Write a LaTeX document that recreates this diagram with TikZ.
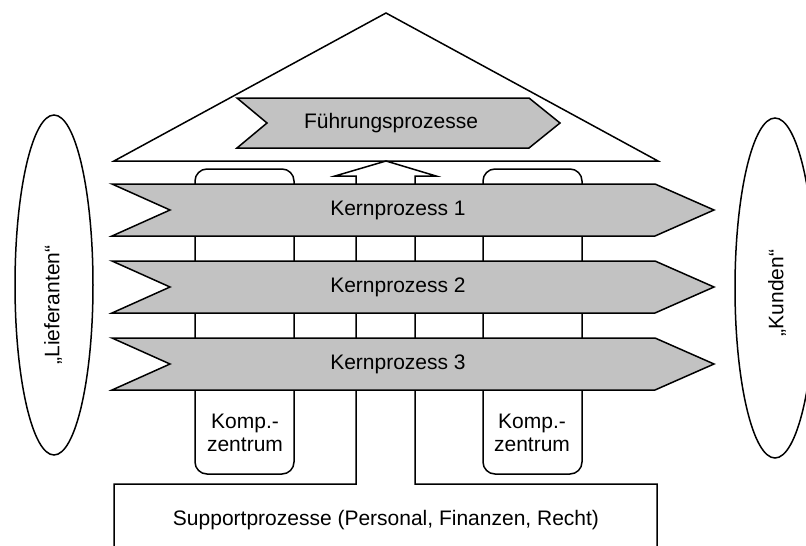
\documentclass[tikz,border=0pt]{standalone}
\usepackage{fontspec}
\setmainfont{Liberation Sans}
\usepackage{tikz}
\definecolor{procgray}{gray}{0.76}
\tikzstyle{process}=[draw, fill=procgray, line width=1.5pt, line join=miter]
\tikzstyle{frame}=[draw, fill=white, line width=1.5pt]
\tikzstyle{plaintext}=[inner sep=0pt, align=center, font=\fontsize{21}{23.5}\selectfont]

\begin{document}
\begin{tikzpicture}[x=1pt,y=-1pt]
				\useasboundingbox (0,0) rectangle (806,546);
				
				% Lieferanten und Kunden
				\draw[frame] (54,285) ellipse (39 and 170);
				\draw[frame] (775,288) ellipse (40 and 170);
				\node[plaintext, rotate=90] (lief) at (53,305) {„Lieferanten“};
				\node[plaintext, rotate=90] (kund) at (777,293) {„Kunden“};
				
				% Dach mit Fuehrungsprozessen
				\draw[frame] (114,161) -- (386,13) -- (658,161) -- cycle;
				\draw[process] (237,98) -- (529,98) -- (560,123) -- (529,148) -- (237,148) -- (267,123) -- cycle;
				\node[plaintext] (fp) at (391,123) {Führungsprozesse};
				
				% Kompetenzzentren
				\draw[frame, rounded corners=12pt] (195,169) rectangle (294,474);
				\draw[frame, rounded corners=12pt] (483,169) rectangle (582,474);
				
				% Supportprozesse mit Pfeil nach oben
				\draw[frame] (114,550) -- (114,484) -- (356,484) -- (356,176) -- (335,176) -- (386,161)
					-- (436,176) -- (415,176) -- (415,484) -- (657,484) -- (657,550);
				
				% Kernprozesse
				\draw[process] (112,184) -- (655,184) -- (714,210) -- (655,236) -- (112,236) -- (170,210) -- cycle;
				\draw[process] (112,261) -- (655,261) -- (714,287) -- (655,313) -- (112,313) -- (170,287) -- cycle;
				\draw[process] (112,338) -- (655,338) -- (714,364) -- (655,390) -- (112,390) -- (170,364) -- cycle;
				\node[plaintext] (kp1) at (398,210) {Kernprozess 1};
				\node[plaintext] (kp2) at (398,287) {Kernprozess 2};
				\node[plaintext] (kp3) at (398,364) {Kernprozess 3};
				
				\node[plaintext] (kz1) at (245,433) {Komp.-\\zentrum};
				\node[plaintext] (kz2) at (532,433) {Komp.-\\zentrum};
				\node[plaintext] (sp) at (386,520) {Supportprozesse (Personal, Finanzen, Recht)};
			\end{tikzpicture}
\end{document}
